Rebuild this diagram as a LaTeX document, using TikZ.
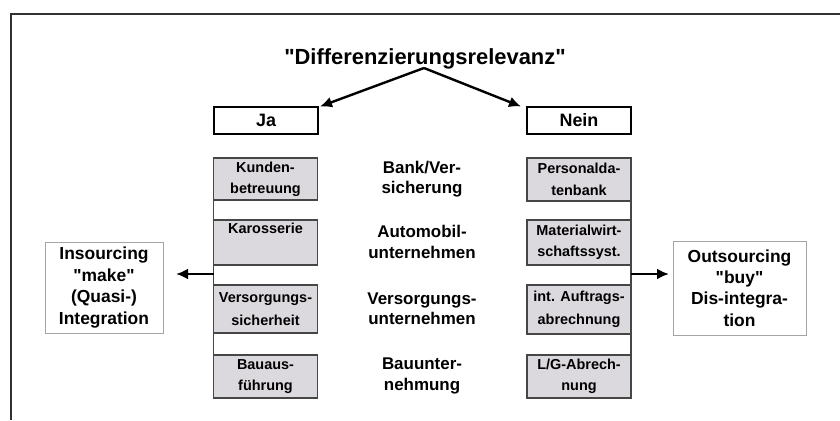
\documentclass[tikz,border=0pt]{standalone}
\usepackage{fontspec}
\setmainfont{Liberation Sans}[Ligatures=TeXOff]
\usetikzlibrary{arrows.meta}
\definecolor{boxfill}{RGB}{220,217,222}
\definecolor{boxline}{RGB}{70,70,70}
\definecolor{framecol}{RGB}{50,50,50}
\definecolor{outline}{RGB}{165,165,165}
\begin{document}
\begin{tikzpicture}[x=1bp,y=-1bp,
  every node/.style={inner sep=0pt, outer sep=0pt},
  titletext/.style={font=\bfseries\fontsize{22}{25}\selectfont},
  choicebox/.style={draw=black, line width=2bp, minimum width=104bp, minimum height=27bp,
    font=\bfseries\fontsize{18}{20}\selectfont},
  graybox/.style={draw=boxline, line width=1.6bp, fill=boxfill, minimum width=104bp,
    align=center, font=\bfseries\fontsize{14.5}{21.5}\selectfont},
  midtext/.style={align=center, font=\bfseries\fontsize{17}{20.5}\selectfont},
  sidebox/.style={draw=outline, line width=0.8bp, align=center,
    font=\bfseries\fontsize{17.5}{21.5}\selectfont},
  arr/.style={line width=2.4bp, -{Latex[length=12bp,width=11bp]}},
  bracket/.style={draw=boxline, line width=1.6bp},
  framestyle/.style={draw=framecol, line width=2.2bp}
]
\useasboundingbox (0,0) rectangle (840,420);
\fill[white] (0,0) rectangle (840,420);
% frame
\draw[framestyle] (11,420) -- (11,14) -- (840,14);

% title and choices
\node[titletext] (title) at (425,59) {"Differenzierungsrelevanz"};
\coordinate (split) at (424,68);
\node[choicebox] (ja) at (266,120) {Ja};
\node[choicebox] (nein) at (579,120) {Nein};
\draw[arr] (split) -- ([xshift=2bp]ja.north east);
\draw[arr] (split) -- ([xshift=-6bp]nein.north west);

% left column
\node[graybox, minimum height=42bp] (kunden) at (265.5,179) {Kunden-\\betreuung};
\node[graybox, minimum height=45bp] (karo) at (265.5,242.5) {Karosserie\\\strut};
\node[graybox, minimum height=48bp] (versorg) at (265.5,309) {Versorgungs-\\[2bp]sicherheit};
\node[graybox, minimum height=43bp] (bau) at (265.5,376.5) {Bauaus-\\führung};
\draw[bracket] (kunden.south west) -- (bau.north west);

% right column
\node[graybox, minimum height=43bp] (personal) at (579,179.5) {Personalda-\\tenbank};
\node[graybox, minimum height=45bp] (material) at (579,242.5) {Materialwirt-\\schaftssyst.};
\node[graybox, minimum height=49bp] (auftrag) at (579,309.5) {int. Auftrags-\\[2bp]abrechnung};
\node[graybox, minimum height=43bp] (lg) at (579,376.5) {L/G-Abrech-\\nung};
\draw[bracket] (personal.south east) -- (lg.north east);

% middle texts
\node[midtext] (bank) at (422,179) {Bank/Ver-\\sicherung};
\node[midtext] (auto) at (422,242) {Automobil-\\unternehmen};
\node[midtext] (versu) at (422,309) {Versorgungs-\\unternehmen};
\node[midtext] (bauu) at (422,376) {Bauunter-\\nehmung};

% side boxes
\node[sidebox, minimum width=118bp, minimum height=91bp] (insourcing) at (104,287.5)
  {Insourcing\\"make"\\(Quasi-)\\Integration};
\node[sidebox, minimum width=133bp, minimum height=94bp] (outsourcing) at (739.5,288)
  {Outsourcing\\"buy"\\Dis-integra-\\tion};

% side arrows
\coordinate (lstart) at (213.5,274);
\coordinate (ltip) at (176,274);
\coordinate (rstart) at (631,274);
\coordinate (rtip) at (669,274);
\draw[arr] (lstart) -- (ltip);
\draw[arr] (rstart) -- (rtip);
\end{tikzpicture}
\end{document}
